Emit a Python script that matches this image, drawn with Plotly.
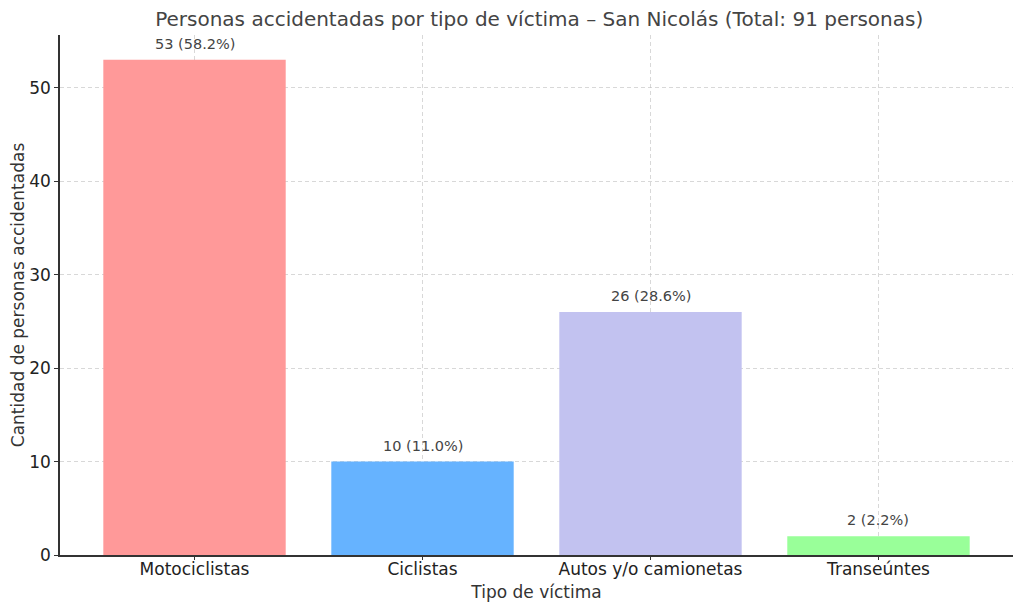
import plotly.graph_objects as go

categorias = ["Motociclistas", "Ciclistas", "Autos y/o camionetas", "Transeúntes"]
personas = [53, 10, 26, 2]
colores = ["#ff9999", "#66b3ff", "#c2c2f0", "#99ff99"]

total = sum(personas)
etiquetas = [f"{v} ({v / total * 100:.1f}%)" for v in personas]

fig = go.Figure(go.Bar(x=list(range(len(categorias))), y=personas,
                       marker=dict(color=colores, line=dict(width=0)),
                       width=0.8, hoverinfo="skip"))

for i, (v, t) in enumerate(zip(personas, etiquetas)):
    fig.add_annotation(x=i, y=v, text=t, showarrow=False, yshift=16,
                       font=dict(size=14.5, color="#444444"))

font = "DejaVu Sans"
grid = dict(showgrid=True, gridcolor="rgba(190,190,190,0.6)", griddash="4px,3px",
            gridwidth=0.8, layer="above traces")

fig.update_layout(
    width=1008, height=595,
    margin=dict(l=52, r=3, t=27, b=48),
    plot_bgcolor="white", paper_bgcolor="white",
    font=dict(family=font, color="#333333"),
    title=dict(text=f"Personas accidentadas por tipo de víctima – San Nicolás (Total: {total} personas)",
               x=0.527, xanchor="center", y=0.982, yanchor="middle",
               font=dict(size=20, color="#444444")),
    showlegend=False,
    xaxis=dict(range=[-0.59, 3.59], tickmode="array",
               tickvals=list(range(len(categorias))), ticktext=categorias,
               tickfont=dict(size=17, color="#222222"), ticklabelstandoff=-5,
               title=dict(text="Tipo de víctima", font=dict(size=17, color="#333333"), standoff=8),
               showline=True, linecolor="#333333", linewidth=1.5,
               ticks="outside", ticklen=3, tickcolor="#333333", zeroline=False, **grid),
    yaxis=dict(range=[0, 55.65], tickvals=[0, 10, 20, 30, 40, 50],
               tickfont=dict(size=17, color="#222222"),
               title=dict(text="Cantidad de personas accidentadas", font=dict(size=17, color="#333333"), standoff=4),
               showline=True, linecolor="#333333", linewidth=1.5,
               ticks="outside", ticklen=4, tickcolor="#333333", zeroline=False, **grid),
)

fig.write_html("out.html")
